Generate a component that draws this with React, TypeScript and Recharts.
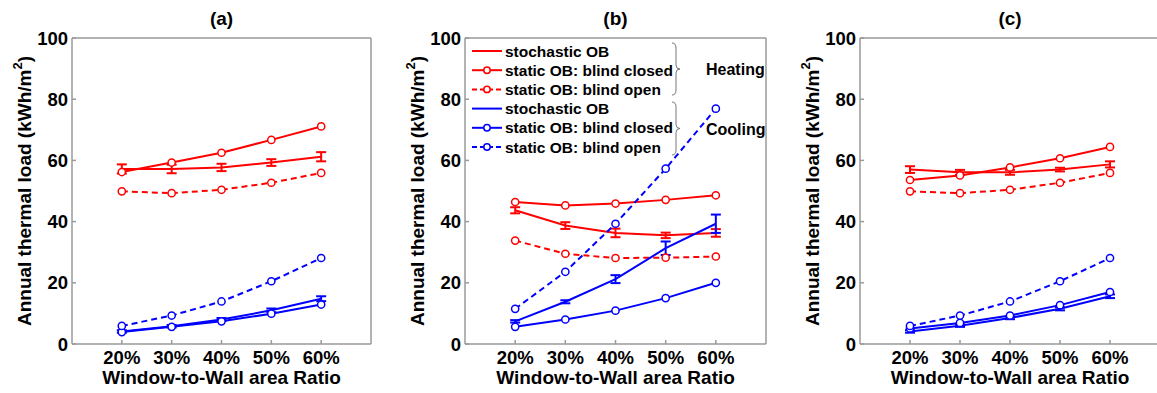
import React from 'react';
import { LineChart, Line, XAxis, YAxis, ErrorBar, Legend } from 'recharts';

const FONT = '"Liberation Sans", Arial, Helvetica, sans-serif';
const RED = '#ff0000';
const BLUE = '#0000ff';
const BOX = '#9a9a9a';

// categories
const wwr = [20, 30, 40, 50, 60];
const wwrTickLabels = ['20%', '30%', '40%', '50%', '60%'];
const yTicks = [0, 20, 40, 60, 80, 100];
const panelTitles = ['(a)', '(b)', '(c)'];
const legendLabels = ['stochastic OB', 'static OB: blind closed', 'static OB: blind open'];
const groupLabels = ['Heating', 'Cooling'];

// panel (a)
const aHeatStoch = [57.2, 57.2, 57.7, 59.3, 61.2];
const aHeatStochErr = [1.5, 1.4, 1.2, 1.1, 1.5];
const aHeatClosed = [56.2, 59.3, 62.5, 66.7, 71.1];
const aHeatOpen = [49.9, 49.3, 50.4, 52.7, 55.9];
const aCoolStoch = [4.1, 5.8, 8.0, 11.0, 14.8];
const aCoolStochErr = [0.4, 0.4, 0.5, 0.6, 0.8];
const aCoolClosed = [3.9, 5.6, 7.4, 9.9, 12.9];
const aCoolOpen = [5.9, 9.3, 13.9, 20.5, 28.1];

// panel (b)
const bHeatStoch = [43.7, 38.7, 36.3, 35.5, 36.3];
const bHeatStochErr = [1.0, 1.1, 1.4, 0.9, 1.25];
const bHeatClosed = [46.4, 45.3, 45.9, 47.1, 48.6];
const bHeatOpen = [33.8, 29.5, 28.1, 28.2, 28.6];
const bCoolStoch = [7.4, 13.8, 21.2, 31.3, 39.3];
const bCoolStochErr = [0.4, 0.5, 1.3, 2.2, 3.0];
const bCoolClosed = [5.6, 8.0, 10.9, 15.0, 20.0];
const bCoolOpen = [11.5, 23.6, 39.3, 57.3, 76.9];

// panel (c)
const cHeatStoch = [57.0, 56.1, 56.1, 57.0, 58.7];
const cHeatStochErr = [1.1, 0.8, 0.8, 0.6, 1.0];
const cHeatClosed = [53.6, 55.1, 57.7, 60.7, 64.4];
const cHeatOpen = [49.9, 49.3, 50.4, 52.7, 55.9];
const cCoolStoch = [4.1, 6.0, 8.5, 11.5, 15.6];
const cCoolStochErr = [0.4, 0.4, 0.4, 0.5, 0.6];
const cCoolClosed = [5.1, 6.9, 9.3, 12.7, 17.0];
const cCoolOpen = [5.9, 9.3, 13.9, 20.5, 28.1];

type Vals = {
  hs: number[]; hsErr: number[]; hc: number[]; ho: number[];
  cs: number[]; csErr: number[]; cc: number[]; co: number[];
};

const buildRows = (v: Vals) =>
  wwr.map((x, i) => ({
    wwr: x,
    hs: v.hs[i], hsErr: v.hsErr[i], hc: v.hc[i], ho: v.ho[i],
    cs: v.cs[i], csErr: v.csErr[i], cc: v.cc[i], co: v.co[i],
  }));

const panels = [
  { vals: { hs: aHeatStoch, hsErr: aHeatStochErr, hc: aHeatClosed, ho: aHeatOpen, cs: aCoolStoch, csErr: aCoolStochErr, cc: aCoolClosed, co: aCoolOpen }, left: 0, axisW: 72, mRight: 18, legend: false },
  { vals: { hs: bHeatStoch, hsErr: bHeatStochErr, hc: bHeatClosed, ho: bHeatOpen, cs: bCoolStoch, csErr: bCoolStochErr, cc: bCoolClosed, co: bCoolOpen }, left: 390, axisW: 75, mRight: 13, legend: true },
  { vals: { hs: cHeatStoch, hsErr: cHeatStochErr, hc: cHeatClosed, ho: cHeatOpen, cs: cCoolStoch, csErr: cCoolStochErr, cc: cCoolClosed, co: cCoolOpen }, left: 780, axisW: 80, mRight: 9, legend: false },
];

const seriesDefs = [
  { key: 'hs', err: 'hsErr', color: RED, dashed: false, circle: false, label: 0 },
  { key: 'hc', err: null, color: RED, dashed: false, circle: true, label: 1 },
  { key: 'ho', err: null, color: RED, dashed: true, circle: true, label: 2 },
  { key: 'cs', err: 'csErr', color: BLUE, dashed: false, circle: false, label: 0 },
  { key: 'cc', err: null, color: BLUE, dashed: false, circle: true, label: 1 },
  { key: 'co', err: null, color: BLUE, dashed: true, circle: true, label: 2 },
];

const tickStyle = { fill: '#000', fontSize: 18.5, fontWeight: 'bold', fontFamily: FONT };

const YLabel = (props: any) => {
  const vb = props.viewBox || { x: 0, y: 38, width: 72, height: 306 };
  const cx = vb.x + vb.width - 48;
  const cy = vb.y + vb.height / 2;
  return (
    <text x={cx} y={cy} transform={`rotate(-90 ${cx} ${cy})`} textAnchor="middle" dominantBaseline="central"
      fontFamily={FONT} fontWeight="bold" fontSize={19} fill="#000">
      Annual thermal load (kWh/m<tspan dy={-7} fontSize={13}>2</tspan><tspan dy={7}>)</tspan>
    </text>
  );
};

const XLabel = (props: any) => {
  const vb = props.viewBox || { x: 72, y: 344, width: 299, height: 49 };
  return (
    <text x={vb.x + vb.width / 2} y={vb.y + 40} textAnchor="middle" fontFamily={FONT} fontWeight="bold" fontSize={19} fill="#000">
      Window-to-Wall area Ratio
    </text>
  );
};

const makeTitle = (title: string) => (props: any) => {
  const vb = props.viewBox || { x: 72, y: 37, width: 299, height: 1 };
  return (
    <text x={vb.x + vb.width / 2} y={vb.y - 12} textAnchor="middle" fontFamily={FONT} fontWeight="bold" fontSize={19} fill="#000">
      {title}
    </text>
  );
};

const brace = (x0: number, top: number, bot: number) => {
  const mid = (top + bot) / 2;
  const xm = x0 + 4;
  return `M ${x0} ${top} Q ${xm} ${top} ${xm} ${top + 5} L ${xm} ${mid - 4} Q ${xm} ${mid} ${x0 + 8} ${mid} Q ${xm} ${mid} ${xm} ${mid + 4} L ${xm} ${bot - 5} Q ${xm} ${bot} ${x0} ${bot}`;
};

const PanelLegend = () => {
  const rowY = (i: number) => 13 + 19.2 * i;
  return (
    <svg width={310} height={125} style={{ display: 'block', overflow: 'visible' }}>
      {seriesDefs.map((s, i) => (
        <g key={s.key}>
          <line x1={7} x2={37} y1={rowY(i)} y2={rowY(i)} stroke={s.color} strokeWidth={2} strokeDasharray={s.dashed ? '5 3' : undefined} />
          {s.circle && <circle cx={22} cy={rowY(i)} r={3.2} fill="#fff" stroke={s.color} strokeWidth={1.5} />}
          <text x={40} y={rowY(i)} dominantBaseline="central" fontFamily={FONT} fontWeight="bold" fontSize={15.5} fill="#000">
            {legendLabels[s.label]}
          </text>
        </g>
      ))}
      <path d={brace(207, 5, 57)} fill="none" stroke="#777" strokeWidth={1} />
      <path d={brace(207, 64, 117)} fill="none" stroke="#777" strokeWidth={1} />
      <text x={241} y={31} dominantBaseline="central" fontFamily={FONT} fontWeight="bold" fontSize={16} fill="#000">{groupLabels[0]}</text>
      <text x={241} y={91} dominantBaseline="central" fontFamily={FONT} fontWeight="bold" fontSize={16} fill="#000">{groupLabels[1]}</text>
    </svg>
  );
};

const Panel = ({ idx }: { idx: number }) => {
  const p = panels[idx];
  const data = buildRows(p.vals);
  return (
    <div style={{ position: 'absolute', left: p.left, top: 0 }}>
      <LineChart width={390} height={393} data={data} margin={{ top: 37, right: p.mRight, bottom: 0, left: 0 }}>
        <XAxis dataKey="wwr" type="number" domain={[10, 70]} ticks={wwr} tickFormatter={(v: number) => wwrTickLabels[wwr.indexOf(v)]}
          height={49} tick={tickStyle} tickSize={-4} tickMargin={11} stroke={BOX} strokeWidth={1.5} interval={0}
          label={{ content: XLabel }} allowDataOverflow />
        <XAxis xAxisId="top" orientation="top" type="number" dataKey="wwr" domain={[10, 70]} ticks={wwr} height={1} tick={false}
          tickSize={-4} stroke={BOX} strokeWidth={1.5} interval={0} label={{ content: makeTitle(panelTitles[idx]) }} />
        <YAxis type="number" domain={[0, 100]} ticks={yTicks} width={p.axisW} tick={tickStyle} tickSize={-4} tickMargin={8}
          stroke={BOX} strokeWidth={1.5} interval={0} label={{ content: YLabel }} />
        <YAxis yAxisId="right" orientation="right" type="number" domain={[0, 100]} ticks={yTicks} width={1} tick={false}
          tickSize={-4} stroke={BOX} strokeWidth={1.5} interval={0} />
        {p.legend && (
          <Legend layout="vertical" align="center" verticalAlign="middle" content={<PanelLegend />}
            wrapperStyle={{ position: 'absolute', left: 75, top: 38, width: 310, height: 125 }} />
        )}
        {seriesDefs.map((s) => (
          <Line key={s.key} dataKey={s.key} type="linear" stroke={s.color} strokeWidth={2}
            strokeDasharray={s.dashed ? '6 4' : undefined}
            dot={s.circle ? { r: 3.6, fill: '#fff', stroke: s.color, strokeWidth: 1.5, strokeDasharray: '' } : false}
            activeDot={false} isAnimationActive={false} legendType="none">
            {s.err && <ErrorBar dataKey={s.err} width={5} stroke={s.color} strokeWidth={2} direction="y" />}
          </Line>
        ))}
      </LineChart>
    </div>
  );
};

export default function App() {
  return (
    <div style={{ position: 'absolute', left: 0, top: 0, width: 1157, height: 393, overflow: 'hidden', background: '#fff' }}>
      <Panel idx={0} />
      <Panel idx={1} />
      <Panel idx={2} />
    </div>
  );
}
